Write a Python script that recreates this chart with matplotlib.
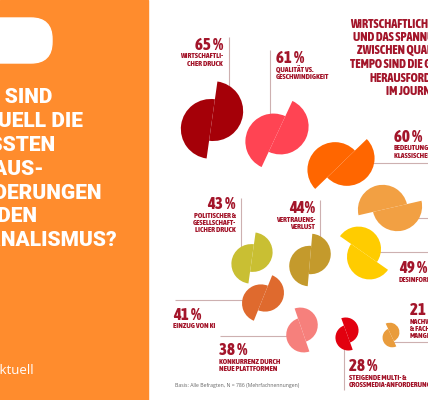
import numpy as np
import matplotlib
matplotlib.use("Agg")
import matplotlib.pyplot as plt
from matplotlib.patches import Wedge, Rectangle, FancyBboxPatch
from matplotlib import font_manager

# ---------------- data ----------------
values = [65, 61, 60, 54, 49, 44, 43, 41, 38, 28, 21]
pct_labels = ["65 %", "61 %", "60 %", "", "49 %", "44%", "43 %", "41 %", "38 %", "28 %", "21 %"]
categories = [
    "WIRTSCHAFTLI-\nCHER DRUCK",
    "QUALITÄT VS.\nGESCHWINDIGKEIT",
    "BEDEUTUNGSVERLUST\nKLASSISCHER MEDIEN",
    "",
    "DESINFORMATION",
    "VERTRAUENS-\nVERLUST",
    "POLITISCHER &\nGESELLSCHAFT-\nLICHER DRUCK",
    "EINZUG VON KI",
    "KONKURRENZ DURCH\nNEUE PLATTFORMEN",
    "STEIGENDE MULTI- &\nCROSSMEDIA-ANFORDERUNGEN",
    "NACHWUCHS-\n& FACHKRÄFTE-\nMANGEL",
]
colors = ["#A50008", "#FF4453", "#FF6600", "#F2A043", "#FFCC00", "#C49A2C",
          "#C9BF33", "#DF6A2E", "#F6807C", "#E2000F", "#E99C3C"]

title_left = ["WAS SIND", "AKTUELL DIE", "GRÖSSTEN", "HERAUS-", "FORDERUNGEN", "FÜR DEN", "JOURNALISMUS?"]
title_right = ["WIRTSCHAFTLICHER DRUCK", "UND DAS SPANNUNGSFELD", "ZWISCHEN QUALITÄT UND",
               "TEMPO SIND DIE GRÖSSTEN", "HERAUSFORDERUNGEN", "IM JOURNALISMUS"]
footnote = "Basis: Alle Befragten, N = 786 (Mehrfachnennungen)"
brand = "aktuell"

# ---------------- layout (pixel space, y down) ----------------
shape_pos = [(212, 120, 82), (277, 134, 65), (341, 164, 44), (390, 208, 13),
             (364, 253, 145), (310, 260, 85), (252, 258, 82), (263, 298, 68),
             (302, 330, 109), (347, 334, 110), (391, 335, 115)]
label_pos = [(223, 50, "right"), (276, 63, "left"), (394, 142, "left"), None,
             (399, 273, "left"), (315, 213, "right"), (236, 209, "right"),
             (173, 320, "left"), (219, 355, "left"), (349, 371, "left"),
             (410, 315, "left")]
leader = [((229, 37), (229, 93)), ((270, 50), (270, 127)), ((355, 163), (430, 163)),
          ((405, 218), (430, 218)), ((375, 252), (430, 252)), ((320, 200), (320, 240)),
          ((241, 198), (241, 255)), ((175, 300), (262, 300)), ((220, 336), (295, 336)),
          ((344, 349), (344, 390)), ((393, 342), (430, 342))]
title_left_right_x = [52, 83, 55, 45, 102, 37, 117]
title_right_x = [350, 353, 357, 350, 370, 386]


def wnum(w):
    if isinstance(w, (int, float)):
        return w
    return font_manager.weight_dict.get(w, 400)


def snum(s):
    if isinstance(s, (int, float)):
        return s
    return font_manager.stretch_dict.get(s, 500)


def find_condensed():
    tl = font_manager.fontManager.ttflist
    cands = []
    for f in tl:
        if "Mono" in f.name or "CJK" in f.name:
            continue
        st = snum(f.stretch)
        if "Narrow" in f.name or "Condensed" in f.name:
            st = min(st, 300) if "Semi" not in f.name else min(st, 400)
        if st <= 400 and wnum(f.weight) >= 700:
            cands.append((abs(st - 400) / 100 + abs(wnum(f.weight) - 800) / 200, f, st))
    if cands:
        cands.sort(key=lambda t: t[0])
        _, best, st = cands[0]
        return best.name, best.stretch, wnum(best.weight), st
    return "DejaVu Sans", "normal", 700, 500


cond, cstretch, cweight, cst = find_condensed()
wf = {500: 0.86, 400: 1.0}.get(cst, 1.1 if cst <= 300 else 1.0)
names = {f.name for f in font_manager.fontManager.ttflist}
plain = "Open Sans" if "Open Sans" in names else "DejaVu Sans"
heavy = "Roboto" if "Roboto" in names else "DejaVu Sans"

W, H = 428, 400
fig = plt.figure(figsize=(W / 100, H / 100), dpi=100)
ax = fig.add_axes([0, 0, 1, 1])
ax.set_xlim(0, W)
ax.set_ylim(H, 0)
ax.axis("off")

DARK = "#A3152A"
LINE = "#CDB0B0"
cfont = dict(family=cond, fontstretch=cstretch, fontweight=cweight)

# left orange panel
ax.add_patch(Rectangle((0, 0), 148, H, color="#FF8C2D", zorder=0))
ax.add_patch(FancyBboxPatch((-40, 18), 92, 45, boxstyle="round,pad=0,rounding_size=21",
                            color="white", zorder=1))
for i, line in enumerate(title_left):
    ax.text(title_left_right_x[i], 103 + i * 23.9, line, ha="right", va="baseline",
            fontsize=15, fontweight="black", family=heavy, color="white", zorder=2)
ax.text(-8, 374, brand, ha="left", va="baseline", fontsize=9.5, family=plain,
        color="white", zorder=2)

# right title
for i, line in enumerate(title_right):
    ax.text(title_right_x[i], 28 + i * 13.4, line, ha="left", va="baseline",
            fontsize=8 * wf, color=DARK, **cfont)

# leader lines
for (p0, p1) in leader:
    ax.plot([p0[0], p1[0]], [p0[1], p1[1]], color=LINE, lw=0.8, zorder=1,
            solid_capstyle="butt")

# shapes: two offset half-discs, size proportional to value
for v, (cx, cy, phi), col in zip(values, shape_pos, colors):
    r = 0.46 * v
    d = 0.3 * r
    ux, uy = np.cos(np.radians(phi)), -np.sin(np.radians(phi))
    ax.add_patch(Wedge((cx + d * ux, cy + d * uy), r, -phi, 180 - phi, color=col, lw=0, zorder=2))
    ax.add_patch(Wedge((cx - d * ux, cy - d * uy), r, 180 - phi, 360 - phi, color=col, lw=0, zorder=2))

# labels
for pct, cat, lp in zip(pct_labels, categories, label_pos):
    if lp is None:
        continue
    x, y, ha = lp
    ax.text(x, y, pct, ha=ha, va="baseline", fontsize=11 * min(wf, 1.1),
            color=DARK, zorder=3, **cfont)
    for j, ln in enumerate(cat.split("\n")):
        ax.text(x, y + 8.5 + j * 7.2, ln, ha=ha, va="baseline", fontsize=5 * wf,
                color=DARK, zorder=3, **cfont)

ax.text(175, 387, footnote, ha="left", va="baseline", fontsize=3.7, family=plain,
        color="#666666")

fig.savefig("out.png", dpi=100)
